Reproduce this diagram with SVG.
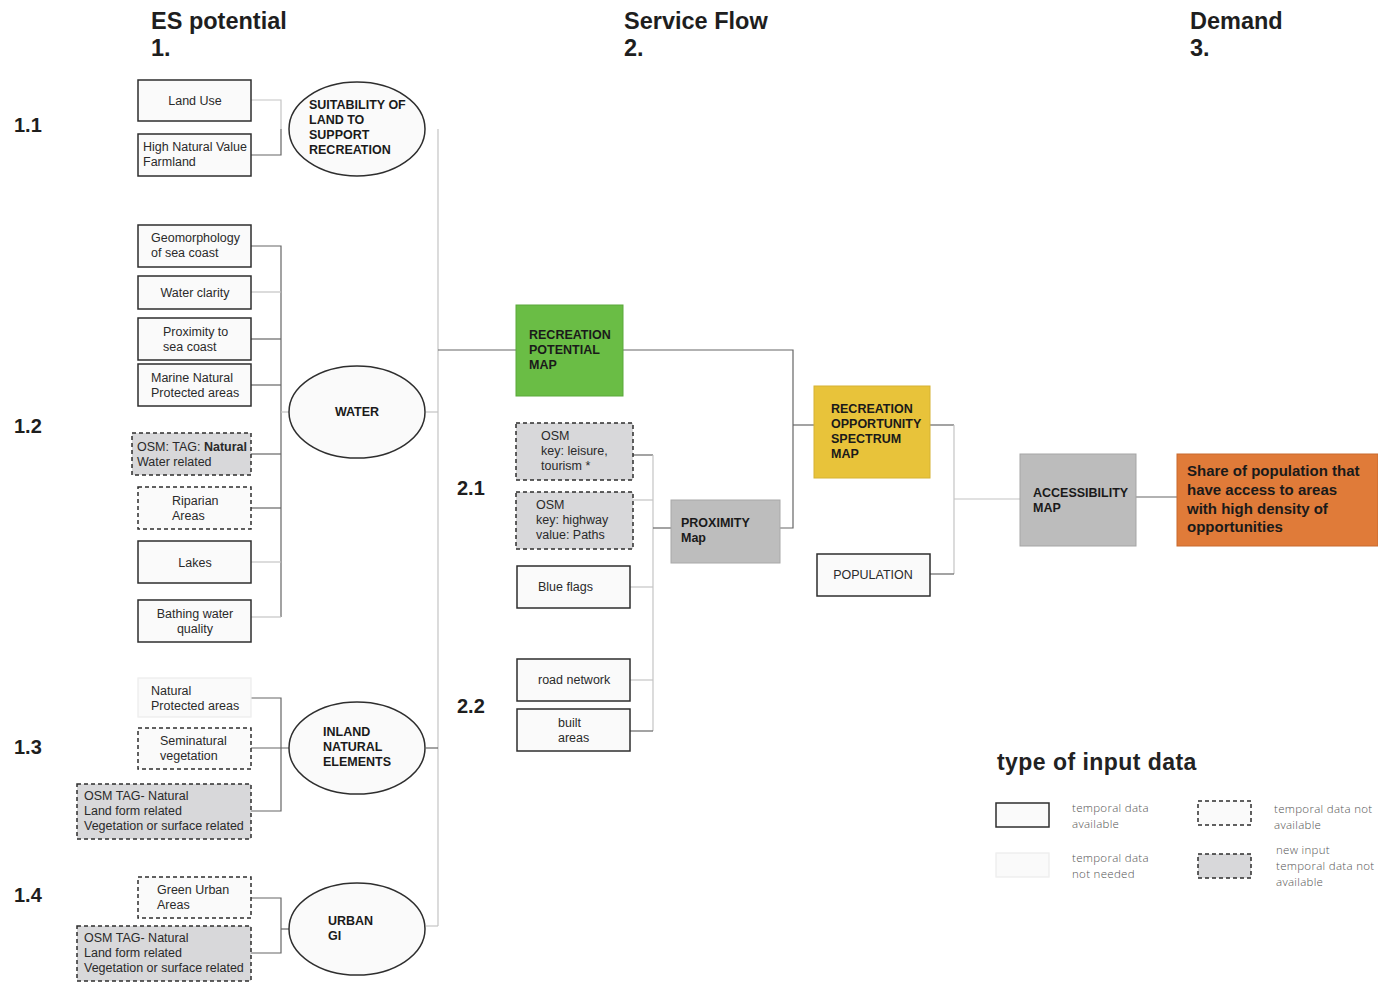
<svg xmlns="http://www.w3.org/2000/svg" width="1378" height="983" viewBox="0 0 1378 983">
  <style>
    text { font-family: "Liberation Sans", Arial, sans-serif; fill: #222; }
    .hdr { font-size: 23.5px; font-weight: bold; fill: #1e1e1e; }
    .sec { font-size: 20px; font-weight: bold; fill: #1e1e1e; }
    .t { font-size: 12.5px; fill: #2a2a2a; }
    .tb { font-size: 12.5px; font-weight: bold; fill: #1a1a1a; }
    .big { font-size: 15px; font-weight: bold; fill: #1a1a1a; }
    .c { text-anchor: middle; }
    .solid { fill: #fafafa; stroke: #2e2e2e; stroke-width: 1.5; }
    .faint { fill: #fafafa; stroke: #ececec; stroke-width: 1.2; }
    .dash { fill: #fafafa; stroke: #2e2e2e; stroke-width: 1.5; stroke-dasharray: 4 3; }
    .dashg { fill: #d8d8da; stroke: #2e2e2e; stroke-width: 1.5; stroke-dasharray: 4 3; }
    .oval { fill: #fafafa; stroke: #2e2e2e; stroke-width: 1.5; }
    .ln { fill: none; stroke: #666; stroke-width: 1.2; }
    .lt { fill: none; stroke: #c4c4c4; stroke-width: 1.2; }
    .lg { font-family: "Open Sans", "Liberation Sans", sans-serif; font-weight: 300; font-size: 11.5px; fill: #555; letter-spacing: 0.3px; }
  </style>

  <!-- column headers -->
  <g id="headers">
    <text class="hdr" x="151" y="29">ES potential</text>
    <text class="hdr" x="151" y="56">1.</text>
    <text class="hdr" x="624" y="29">Service Flow</text>
    <text class="hdr" x="624" y="56">2.</text>
    <text class="hdr" x="1190" y="29">Demand</text>
    <text class="hdr" x="1190" y="56">3.</text>
  </g>

  <!-- section numbers -->
  <g id="sections">
    <text class="sec" x="14" y="132">1.1</text>
    <text class="sec" x="14" y="433">1.2</text>
    <text class="sec" x="14" y="754">1.3</text>
    <text class="sec" x="14" y="902">1.4</text>
    <text class="sec" x="457" y="495">2.1</text>
    <text class="sec" x="457" y="713">2.2</text>
  </g>

  <!-- connectors -->
  <g id="connectors">
    <!-- 1.1 -->
    <path class="lt" d="M251,100 H281 V129"/>
    <path class="ln" d="M281,129 V155 H251"/>
    <!-- 1.2 -->
    <path class="ln" d="M251,246 H281 V617"/>
    <path class="lt" d="M251,292 H281"/>
    <path class="ln" d="M251,339 H281"/>
    <path class="ln" d="M251,385 H281"/>
    <path class="lt" d="M281,412 H289"/>
    <path class="ln" d="M251,454 H281"/>
    <path class="ln" d="M251,508 H281"/>
    <path class="lt" d="M251,562 H281"/>
    <path class="lt" d="M251,617 H281"/>
    <!-- 1.3 -->
    <path class="ln" d="M251,698 H281 V811 H251"/>
    <path class="ln" d="M251,748 H289"/>
    <!-- 1.4 -->
    <path class="ln" d="M251,898 H281 V953 H251"/>
    <path class="ln" d="M281,929 H289"/>
    <!-- trunk to recreation potential -->
    <path class="lt" d="M438,129 V926"/>
    <path class="lt" d="M426,412 H438"/>
    <path class="ln" d="M426,748 H438"/>
    <path class="lt" d="M426,926 H438"/>
    <path class="ln" d="M438,350 H516"/>
    <!-- potential + proximity to opportunity -->
    <path class="ln" d="M623,350 H793 V528 H780"/>
    <path class="ln" d="M793,425 H814"/>
    <!-- 2.1 / 2.2 bracket -->
    <path class="ln" d="M633,455 H653"/>
    <path class="lt" d="M653,455 V731"/>
    <path class="lt" d="M633,500 H653"/>
    <path class="lt" d="M630,587 H653"/>
    <path class="lt" d="M630,680 H653"/>
    <path class="ln" d="M630,731 H653"/>
    <path class="ln" d="M653,528 H671"/>
    <!-- opportunity + population to accessibility -->
    <path class="ln" d="M930,425 H954"/>
    <path class="lt" d="M954,425 V574"/>
    <path class="ln" d="M930,574 H954"/>
    <path class="lt" d="M954,499 H1020"/>
    <path class="ln" d="M1136,497 H1177"/>
  </g>

  <!-- 1.1 inputs -->
  <g id="land-use"><rect class="solid" x="138" y="80" width="113" height="41"/><text class="t c" x="195" y="105">Land Use</text></g>
  <g id="hnv-farmland"><rect class="solid" x="138" y="134" width="113" height="42"/><text class="t" x="143" y="151">High Natural Value</text><text class="t" x="143" y="166">Farmland</text></g>
  <g id="suitability"><ellipse class="oval" cx="357" cy="129" rx="68" ry="47"/><text class="tb" x="309" y="109">SUITABILITY OF</text><text class="tb" x="309" y="124">LAND TO</text><text class="tb" x="309" y="139">SUPPORT</text><text class="tb" x="309" y="154">RECREATION</text></g>

  <!-- 1.2 inputs -->
  <g id="geomorphology"><rect class="solid" x="138" y="225" width="113" height="42"/><text class="t" x="151" y="242">Geomorphology</text><text class="t" x="151" y="257">of sea coast</text></g>
  <g id="water-clarity"><rect class="solid" x="138" y="276" width="113" height="33"/><text class="t c" x="195" y="297">Water clarity</text></g>
  <g id="proximity-coast"><rect class="solid" x="138" y="318" width="113" height="42"/><text class="t" x="163" y="336">Proximity to</text><text class="t" x="163" y="351">sea coast</text></g>
  <g id="marine-protected"><rect class="solid" x="138" y="364" width="113" height="42"/><text class="t" x="151" y="382">Marine Natural</text><text class="t" x="151" y="397">Protected areas</text></g>
  <g id="osm-water"><rect class="dashg" x="132" y="433" width="119" height="42"/><text class="t" x="137" y="451">OSM: TAG: <tspan font-weight="bold">Natural</tspan></text><text class="t" x="137" y="466">Water related</text></g>
  <g id="riparian"><rect class="dash" x="138" y="487" width="113" height="42"/><text class="t" x="172" y="505">Riparian</text><text class="t" x="172" y="520">Areas</text></g>
  <g id="lakes"><rect class="solid" x="138" y="541" width="113" height="42"/><text class="t c" x="195" y="567">Lakes</text></g>
  <g id="bathing"><rect class="solid" x="138" y="600" width="113" height="42"/><text class="t c" x="195" y="618">Bathing water</text><text class="t c" x="195" y="633">quality</text></g>
  <g id="water"><ellipse class="oval" cx="357" cy="412" rx="68" ry="46"/><text class="tb c" x="357" y="416">WATER</text></g>

  <!-- 1.3 inputs -->
  <g id="natural-protected"><rect class="faint" x="138" y="678" width="113" height="39"/><text class="t" x="151" y="695">Natural</text><text class="t" x="151" y="710">Protected areas</text></g>
  <g id="seminatural"><rect class="dash" x="138" y="728" width="113" height="41"/><text class="t" x="160" y="745">Seminatural</text><text class="t" x="160" y="760">vegetation</text></g>
  <g id="osm-natural-inland"><rect class="dashg" x="77" y="784" width="174" height="55"/><text class="t" x="84" y="800">OSM TAG- Natural</text><text class="t" x="84" y="815">Land form related</text><text class="t" x="84" y="830">Vegetation or surface related</text></g>
  <g id="inland"><ellipse class="oval" cx="357" cy="748" rx="68" ry="46"/><text class="tb" x="323" y="736">INLAND</text><text class="tb" x="323" y="751">NATURAL</text><text class="tb" x="323" y="766">ELEMENTS</text></g>

  <!-- 1.4 inputs -->
  <g id="green-urban"><rect class="dash" x="138" y="877" width="113" height="41"/><text class="t" x="157" y="894">Green Urban</text><text class="t" x="157" y="909">Areas</text></g>
  <g id="osm-natural-urban"><rect class="dashg" x="77" y="926" width="174" height="55"/><text class="t" x="84" y="942">OSM TAG- Natural</text><text class="t" x="84" y="957">Land form related</text><text class="t" x="84" y="972">Vegetation or surface related</text></g>
  <g id="urban-gi"><ellipse class="oval" cx="357" cy="929" rx="68" ry="46"/><text class="tb" x="328" y="925">URBAN</text><text class="tb" x="328" y="940">GI</text></g>

  <!-- service flow -->
  <g id="recreation-potential"><rect x="516" y="305" width="107" height="91" fill="#6abd45" stroke="#5aa83a" stroke-width="1"/><text class="tb" x="529" y="339">RECREATION</text><text class="tb" x="529" y="354">POTENTIAL</text><text class="tb" x="529" y="369">MAP</text></g>
  <g id="osm-leisure"><rect class="dashg" x="516" y="423" width="117" height="57"/><text class="t" x="541" y="440">OSM</text><text class="t" x="541" y="455">key: leisure,</text><text class="t" x="541" y="470">tourism *</text></g>
  <g id="osm-highway"><rect class="dashg" x="516" y="492" width="117" height="57"/><text class="t" x="536" y="509">OSM</text><text class="t" x="536" y="524">key: highway</text><text class="t" x="536" y="539">value: Paths</text></g>
  <g id="blue-flags"><rect class="solid" x="517" y="566" width="113" height="42"/><text class="t" x="538" y="591">Blue flags</text></g>
  <g id="road-network"><rect class="solid" x="517" y="659" width="113" height="42"/><text class="t" x="538" y="684">road network</text></g>
  <g id="built-areas"><rect class="solid" x="517" y="709" width="113" height="42"/><text class="t" x="558" y="727">built</text><text class="t" x="558" y="742">areas</text></g>
  <g id="proximity-map"><rect x="671" y="500" width="109" height="63" fill="#bdbdbd" stroke="#a8a8a8" stroke-width="1"/><text class="tb" x="681" y="527">PROXIMITY</text><text class="tb" x="681" y="542">Map</text></g>
  <g id="opportunity-spectrum"><rect x="814" y="386" width="116" height="92" fill="#e8c33a" stroke="#d6b232" stroke-width="1"/><text class="tb" x="831" y="413">RECREATION</text><text class="tb" x="831" y="428">OPPORTUNITY</text><text class="tb" x="831" y="443">SPECTRUM</text><text class="tb" x="831" y="458">MAP</text></g>
  <g id="population"><rect class="solid" x="817" y="554" width="113" height="42"/><text class="t c" x="873" y="579">POPULATION</text></g>

  <!-- demand -->
  <g id="accessibility-map"><rect x="1020" y="454" width="116" height="92" fill="#bcbcbc" stroke="#a5a5a5" stroke-width="1"/><text class="tb" x="1033" y="497">ACCESSIBILITY</text><text class="tb" x="1033" y="512">MAP</text></g>
  <g id="share-population"><rect x="1177" y="454" width="201" height="92" fill="#e07b39" stroke="#c86a2f" stroke-width="1"/>
    <text class="big" x="1187" y="476">Share of population that</text>
    <text class="big" x="1187" y="495">have access to areas</text>
    <text class="big" x="1187" y="514">with  high density of</text>
    <text class="big" x="1187" y="532">opportunities</text>
  </g>

  <!-- legend -->
  <g id="legend">
    <text x="997" y="770" style="font-size:23px;font-weight:bold;fill:#222;letter-spacing:0.45px">type of input data</text>
    <rect class="solid" x="996" y="803" width="53" height="24"/>
    <text class="lg" x="1072" y="812">temporal data</text>
    <text class="lg" x="1072" y="828">available</text>
    <rect class="faint" x="996" y="853" width="53" height="24"/>
    <text class="lg" x="1072" y="862">temporal data</text>
    <text class="lg" x="1072" y="878">not needed</text>
    <rect class="dash" x="1198" y="801" width="53" height="24"/>
    <text class="lg" x="1274" y="813">temporal data not</text>
    <text class="lg" x="1274" y="829">available</text>
    <rect class="dashg" x="1198" y="854" width="53" height="24"/>
    <text class="lg" x="1276" y="854">new input</text>
    <text class="lg" x="1276" y="870">temporal data not</text>
    <text class="lg" x="1276" y="886">available</text>
  </g>
</svg>
